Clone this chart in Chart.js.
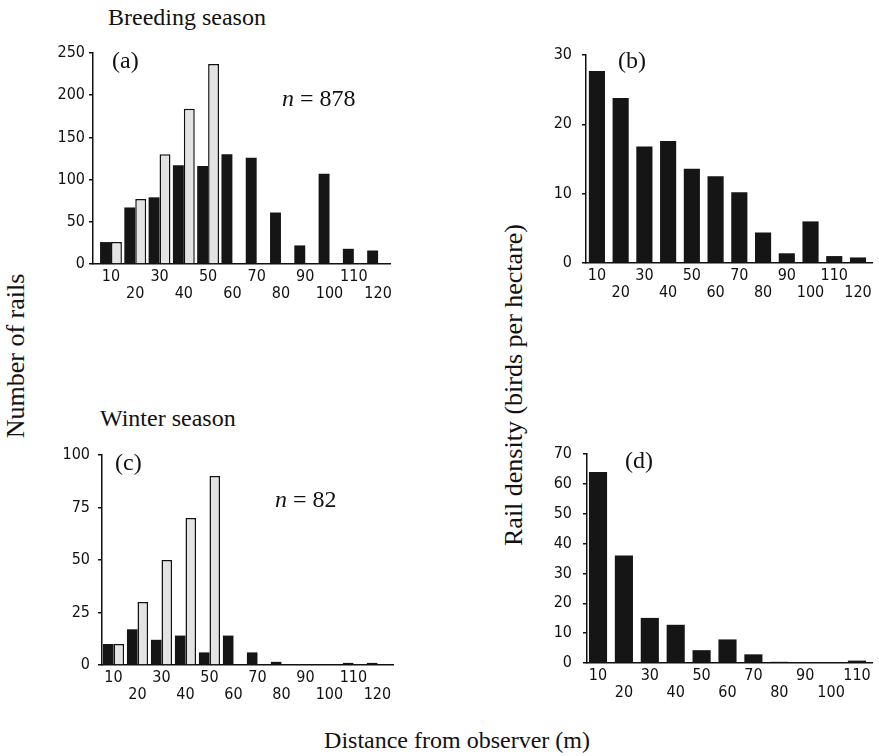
<!DOCTYPE html>
<html>
<head>
<meta charset="utf-8">
<title>Rail detections by distance</title>
<script src="https://cdn.jsdelivr.net/npm/chart.js@4.4.1/dist/chart.umd.min.js"></script>
<style>
  body { margin: 0; background: #fff; }
  #page { position: relative; width: 879px; height: 756px; overflow: hidden;
          font-family: "Liberation Serif", "Times New Roman", serif; color: #111; }
  .panel { position: absolute; }
  .txt { position: absolute; font-size: 24px; line-height: 24px; white-space: nowrap; }
  .vert { text-align: center; transform: rotate(-90deg); font-size: 26px; line-height: 26px; }
</style>
</head>
<body>
<div id="page">
  <div class="txt" style="left:108px;top:5px">Breeding season</div>
  <div class="txt" style="left:100px;top:406px">Winter season</div>

  <canvas class="panel" id="chartA" width="360" height="275" style="left:40px;top:40px"></canvas>
  <canvas class="panel" id="chartB" width="349" height="275" style="left:530px;top:40px"></canvas>
  <canvas class="panel" id="chartC" width="360" height="275" style="left:40px;top:440px"></canvas>
  <canvas class="panel" id="chartD" width="349" height="275" style="left:530px;top:440px"></canvas>

  <div class="txt" style="left:112px;top:48px">(a)</div>
  <div class="txt" style="left:282px;top:86px"><i>n</i> = 878</div>
  <div class="txt" style="left:618px;top:48px">(b)</div>
  <div class="txt" style="left:115px;top:450px">(c)</div>
  <div class="txt" style="left:275px;top:487px"><i>n</i> = 82</div>
  <div class="txt" style="left:625px;top:448px">(d)</div>

  <div class="txt vert" style="left:-84px;top:343px;width:200px">Number of rails</div>
  <div class="txt vert" style="left:339px;top:372px;width:350px">Rail density (birds per hectare)</div>
  <div class="txt" style="left:257px;top:728px;width:400px;text-align:center">Distance from observer (m)</div>
</div>

<script>
// distance classes (m)
var distAll = [10, 20, 30, 40, 50, 60, 70, 80, 90, 100, 110, 120];
var distD = [10, 20, 30, 40, 50, 60, 70, 80, 90, 100, 110];
var distLight = [10, 20, 30, 40, 50];

// (a) breeding season, number of rails
var breedCount = [26, 67, 79, 117, 116, 130, 126, 61, 22, 107, 18, 16];
var breedLight = [26, 77, 130, 184, 237];
// (b) breeding season, density
var breedDensity = [27.7, 23.8, 16.8, 17.6, 13.6, 12.5, 10.2, 4.4, 1.4, 6.0, 1.0, 0.8];
// (c) winter season, number of rails
var winterCount = [10, 17, 12, 14, 6, 14, 6, 1.5, 0, 0, 1, 1];
var winterLight = [10, 30, 50, 70, 90];
// (d) winter season, density
var winterDensity = [64, 36, 15.1, 12.8, 4.3, 7.9, 2.9, 0.4, 0.2, 0.2, 0.8];

var ink = '#111';
var tickFont = { family: '"DejaVu Sans Condensed", "DejaVu Sans", sans-serif', size: 16, lineHeight: 1.06 };

function pts(xs, ys) {
    return ys.map(function (y, i) { return { x: xs[i], y: y }; });
}

function makePanel(id, cfg) {
    var datasets = [{
        data: pts(cfg.xs, cfg.dark),
        backgroundColor: '#151515',
        borderWidth: 0
    }];
    if (cfg.light) {
        datasets.push({
            data: pts(distLight, cfg.light),
            backgroundColor: '#e3e3e3',
            borderColor: ink,
            borderWidth: 1.5
        });
    }
    datasets.forEach(function (d) {
        d.categoryPercentage = cfg.catPct;
        d.barPercentage = 1;
    });

    new Chart(document.getElementById(id), {
        type: 'bar',
        data: { datasets: datasets },
        options: {
            responsive: false,
            animation: false,
            layout: { padding: { top: cfg.padTop, right: cfg.padRight, left: 0, bottom: 0 } },
            plugins: { legend: { display: false }, tooltip: { enabled: false } },
            scales: {
                x: {
                    type: 'linear',
                    min: cfg.xMin, max: cfg.xMax,
                    offset: false,
                    grid: { display: true, drawOnChartArea: false, drawTicks: false, offset: false },
                    border: { display: true, color: ink, width: 1.5 },
                    afterBuildTicks: function (s) {
                        s.ticks = cfg.xs.map(function (v) { return { value: v }; });
                    },
                    afterFit: function (s) {
                        s.height = cfg.xHeight;
                        s.paddingLeft = 0; s.paddingRight = 0;
                    },
                    ticks: {
                        autoSkip: false, maxRotation: 0, minRotation: 0,
                        padding: 4, color: ink, font: tickFont,
                        callback: function (v, i) {
                            return i % 2 === 0 ? String(v) : ['', String(v)];
                        }
                    }
                },
                y: {
                    min: 0, max: cfg.yMax,
                    grid: { display: true, drawOnChartArea: false, drawTicks: true,
                            tickLength: 4, color: ink, lineWidth: 1.5 },
                    border: { display: true, color: ink, width: 1.5 },
                    afterFit: function (s) {
                        s.width = cfg.yWidth;
                        s.paddingTop = 0; s.paddingBottom = 0;
                    },
                    ticks: { stepSize: cfg.yStep, padding: cfg.yPad, color: ink, font: tickFont }
                }
            }
        }
    });
}

makePanel('chartA', { xs: distAll, dark: breedCount, light: breedLight,
    xMin: 2.6, xMax: 124.9, catPct: 0.9, yMax: 250, yStep: 50, yPad: 4,
    yWidth: 53, xHeight: 51, padTop: 13, padRight: 10 });

makePanel('chartB', { xs: distAll, dark: breedDensity,
    xMin: 5.4, xMax: 125.9, catPct: 0.68, yMax: 30, yStep: 10, yPad: 10,
    yWidth: 56, xHeight: 52, padTop: 15, padRight: 7 });

makePanel('chartC', { xs: distAll, dark: winterCount, light: winterLight,
    xMin: 5.2, xMax: 126.5, catPct: 0.88, yMax: 100, yStep: 25, yPad: 8,
    yWidth: 62, xHeight: 50, padTop: 15, padRight: 7 });

makePanel('chartD', { xs: distD, dark: winterDensity,
    xMin: 5.75, xMax: 115.8, catPct: 0.7, yMax: 70, yStep: 10, yPad: 11,
    yWidth: 57, xHeight: 52, padTop: 14, padRight: 7 });
</script>
</body>
</html>
